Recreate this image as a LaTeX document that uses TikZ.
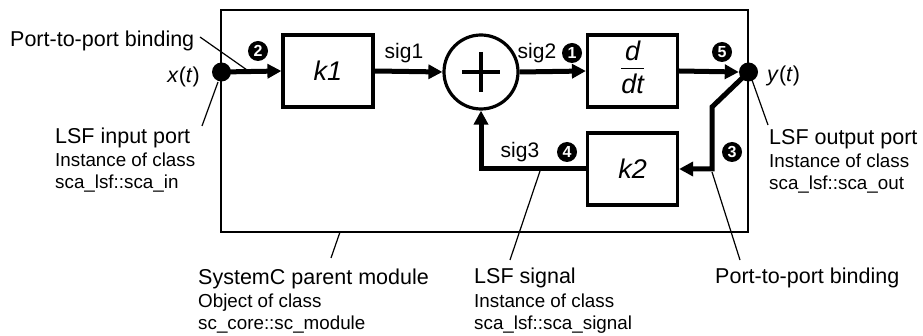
\documentclass[tikz,border=0pt]{standalone}
\usepackage{fontspec}
\setmainfont{Liberation Sans}
\usetikzlibrary{arrows.meta}
\setlength\arrayrulewidth{1.6pt}
\begin{document}
\begin{tikzpicture}[x=1pt,y=-1pt,
  big/.style={font=\fontsize{21.5}{24}\selectfont, inner sep=0, anchor=base west},
  small/.style={font=\fontsize{18.8}{22}\selectfont, inner sep=0, anchor=base west},
  sig/.style={font=\fontsize{21}{24}\selectfont, inner sep=0},
  blk/.style={draw, line width=3.2pt, minimum width=90pt, minimum height=72pt, inner sep=0, font=\fontsize{27}{29}\selectfont\itshape},
  conn/.style={line width=5pt, -{Triangle[length=14pt,width=14pt]}},
  lead/.style={line width=1.2pt},
  num/.style={circle, fill=black, text=white, inner sep=0, minimum size=20pt, font=\fontsize{16}{16}\selectfont\bfseries},
  port/.style={circle, fill=black, inner sep=0, minimum size=19pt},
]
\useasboundingbox (0,0) rectangle (923,336);
% parent module
\node[draw, line width=1.6pt, minimum width=527pt, minimum height=222pt, inner sep=0] (mod) at (484.5,121) {};
% blocks
\node[blk] (k1) at (328,71) {k1};
\node[draw, circle, line width=3.2pt, minimum size=74pt, inner sep=0] (sum) at (481,72) {};
\draw[line width=3.2pt] (sum.center) ++(-19,0) -- ++(38,0);
\draw[line width=3.2pt] (sum.center) ++(0,-20) -- ++(0,40);
\node[blk] (dd) at (632.5,71) {\begin{tabular}{@{}c@{}}d\\[-1pt]\hline\rule{0pt}{24pt}dt\end{tabular}};
\node[blk] (k2) at (632.5,169) {k2};
% ports
\node[port] (xin) at (221.5,72) {};
\node[port] (yout) at (748.5,72) {};
% connectors
\coordinate (fb1) at (712,107);
\draw[conn] (xin.center) -- (k1.west);
\draw[conn] (k1.east) -- (sum.west);
\draw[conn] (sum.east) -- (dd.west);
\draw[conn] (dd.east) -- (yout.west);
\draw[conn] (yout.center) -- (fb1) |- (k2.east);
\draw[conn] (k2.west) -| (sum.south);
% signal labels
\node[sig] (s1) at (404,53) {sig1};
\node[sig] (s2) at (537,53) {sig2};
\node[sig] (s3) at (520,152) {sig3};
\node[num] (n1) at (572,53) {1};
\node[num] (n2) at (258,51) {2};
\node[num] (n3) at (732,152) {3};
\node[num] (n4) at (567,152) {4};
\node[num] (n5) at (722,52) {5};
\node[sig, anchor=base east, font=\fontsize{21.5}{24}\selectfont] (xt) at (200,83) {\textit{x}(\textit{t})};
\node[sig, anchor=base west, font=\fontsize{21.5}{24}\selectfont] (yt) at (767,82) {\textit{y}(\textit{t})};
% annotations
\node[big] (ptpa) at (10,46.5) {Port-to-port binding};
\coordinate (ptpaS) at (200,37);
\coordinate (ptpaE) at (247,70);
\draw[lead] (ptpaS) -- (ptpaE);

\node[big] (lin) at (55,144) {LSF input port};
\node[small] (lin2) at (55,166.5) {Instance of class};
\node[small] (lin3) at (55,188.5) {sca\_lsf::sca\_in};
\coordinate (linS) at (218,82);
\coordinate (linE) at (202,126);
\draw[lead] (linS) -- (linE);

\node[big] (lout) at (769,145) {LSF output port};
\node[small] (lout2) at (769,167.5) {Instance of class};
\node[small] (lout3) at (769,189.5) {sca\_lsf::sca\_out};
\coordinate (loutS) at (752,80);
\coordinate (loutE) at (768,125);
\draw[lead] (loutS) -- (loutE);

\node[big] (pm) at (198,285) {SystemC parent module};
\node[small] (pm2) at (198,307.5) {Object of class};
\node[small] (pm3) at (198,330) {sc\_core::sc\_module};
\coordinate (pmS) at (340,232);
\coordinate (pmE) at (331,258);
\draw[lead] (pmS) -- (pmE);

\node[big] (ls) at (474,284) {LSF signal};
\node[small] (ls2) at (474,307.5) {Instance of class};
\node[small] (ls3) at (474,330) {sca\_lsf::sca\_signal};
\coordinate (lsS) at (540,171);
\coordinate (lsE) at (510,260);
\draw[lead] (lsS) -- (lsE);

\node[big] (ptpb) at (715,284) {Port-to-port binding};
\coordinate (ptpbS) at (712,172);
\coordinate (ptpbE) at (740,260);
\draw[lead] (ptpbS) -- (ptpbE);
\end{tikzpicture}
\end{document}
